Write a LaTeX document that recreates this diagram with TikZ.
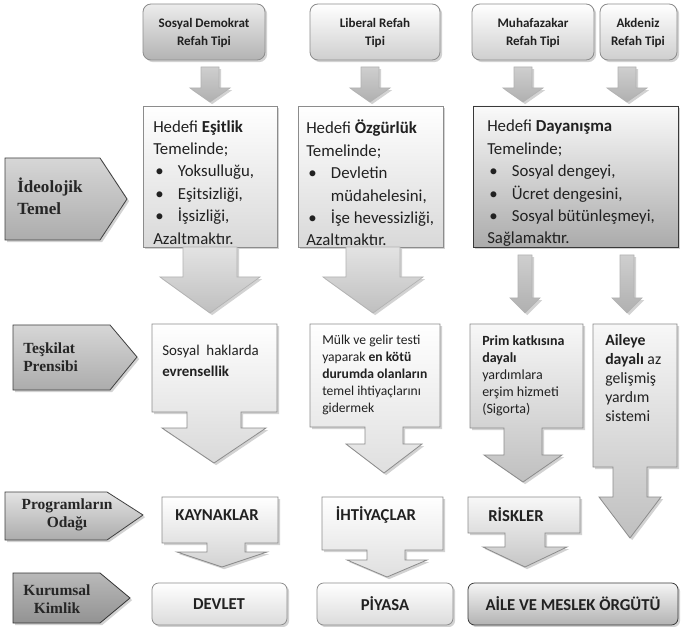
\documentclass[tikz,border=0pt]{standalone}
\usepackage{fontspec}
\setmainfont{Carlito}
\newfontfamily\labfont{Liberation Serif}
\usetikzlibrary{shadows}
\definecolor{txt}{gray}{0.13}
\definecolor{edge}{gray}{0.55}
\newcommand\bul{\hspace*{1.5pt}\makebox[17pt][l]{•}}
\newcommand\barr[7]{\path[#1] (#2-#4,#3) -- (#2+#4,#3) -- (#2+#4,#6) -- (#2+#5,#6) -- (#2,#7) -- (#2-#5,#6) -- (#2-#4,#6) -- cycle;}
\begin{document}
\begin{tikzpicture}[x=0.75pt,y=-0.75pt,
  shad/.style={drop shadow={shadow xshift=1.6pt,shadow yshift=-1.6pt,opacity=0.35}},
  lightbox/.style={draw=edge,line width=0.6pt,top color=white,bottom color=gray!30,shad},
  midbox/.style={draw=edge,line width=0.6pt,top color=gray!6,bottom color=gray!50,shad},
  darkbox/.style={draw=gray!45!black,line width=0.6pt,top color=gray!4,bottom color=gray!66,shad},
  topbox/.style={draw=edge,line width=0.6pt,rounded corners=6pt,top color=white,bottom color=gray!38,shad},
  topdark/.style={draw=edge,line width=0.6pt,rounded corners=6pt,top color=gray!15,bottom color=gray!60,shad},
  botbox/.style={draw=edge,line width=0.6pt,rounded corners=5pt,top color=white,bottom color=gray!28,shad},
  botdark/.style={draw=gray!45!black,line width=0.6pt,rounded corners=5pt,top color=gray!8,bottom color=gray!60,shad},
  smallarr/.style={draw=gray!60,line width=0.5pt,top color=gray!38,bottom color=gray!62,shad},
  bigarr/.style={draw=gray!60,line width=0.5pt,top color=gray!22,bottom color=gray!50,shad},
  lab/.style={draw=gray!50!black,line width=0.6pt,top color=gray!32,bottom color=gray!65,shad},
  labdark/.style={draw=gray!40!black,line width=0.6pt,top color=gray!55,bottom color=gray!85,shad},
  t/.style={inner sep=0pt,text=txt,align=left},
  lt/.style={inner sep=0pt,text=black!85,font=\labfont\bfseries\fontsize{11.6}{13.5}\selectfont}
]
\useasboundingbox[fill=white] (0,0) rectangle (682,627);

% ---------- left labels ----------
\path[lab] (5,158) -- (100,158) -- (127,199) -- (100,240) -- (5,240) -- cycle;
\node[lt,anchor=west,align=left,font=\labfont\bfseries\fontsize{12.8}{16.5}\selectfont] (l1) at (17,196) {İdeolojik\\Temel};
\path[lab] (13,325) -- (110,325) -- (137,357) -- (110,390) -- (13,390) -- cycle;
\node[lt,anchor=west,align=left] (l2) at (23,357) {Teşkilat\\Prensibi};
\path[lab,top color=gray!22] (5,492) -- (107,492) -- (143,515) -- (107,540) -- (5,540) -- cycle;
\node[lt,align=center] (l3) at (67,515) {Programların\\Odağı};
\path[labdark] (13,573) -- (100,573) -- (130,598) -- (100,623) -- (13,623) -- cycle;
\node[lt,align=center] (l4) at (57,599) {Kurumsal\\Kimlik};

% ---------- top row ----------
\path[topdark] (143,4) rectangle (265,60);
\node[t,align=center,font=\bfseries\fontsize{9.8}{13.5}\selectfont] (t1) at (204,33) {Sosyal Demokrat\\Refah Tipi};
\path[topbox] (310,4) rectangle (440,60);
\node[t,align=center,font=\bfseries\fontsize{9.8}{13.5}\selectfont] (t2) at (375,33) {Liberal Refah\\Tipi};
\path[topbox] (472,4) rectangle (594,60);
\node[t,align=center,font=\bfseries\fontsize{9.8}{13.5}\selectfont] (t3) at (533,33) {Muhafazakar\\Refah Tipi};
\path[topbox] (600,4) rectangle (677,60);
\node[t,align=center,font=\bfseries\fontsize{9.8}{13.5}\selectfont] (t4) at (638,33) {Akdeniz\\Refah Tipi};

% small arrows
\barr{smallarr}{210}{67}{9}{20}{88}{102}
\barr{smallarr}{370}{67}{9}{20}{88}{102}
\barr{smallarr}{523}{67}{9}{20}{88}{102}
\barr{smallarr}{627}{67}{9}{20}{88}{102}

% ---------- ideology row ----------
\path[lightbox] (143,106) rectangle (277,247);
\node[t,anchor=north west,font=\fontsize{12.6}{16.8}\selectfont] (i1) at (153,120)
  {Hedefi \textbf{Eşitlik}\\Temelinde;\\\bul Yoksulluğu,\\\bul Eşitsizliği,\\\bul İşsizliği,\\Azaltmaktır.};
\path[lightbox] (298,106) rectangle (443,247);
\node[t,anchor=north west,font=\fontsize{12.6}{16.8}\selectfont] (i2) at (306,120)
  {Hedefi \textbf{Özgürlük}\\Temelinde;\\\bul Devletin\\\hspace*{18.5pt}müdahelesini,\\\bul İşe hevessizliği,\\Azaltmaktır.};
\path[darkbox] (473,106) rectangle (678,247);
\node[t,anchor=north west,font=\fontsize{12.6}{16.8}\selectfont] (i3) at (487,120)
  {Hedefi \textbf{Dayanışma}\\Temelinde;\\\bul Sosyal dengeyi,\\\bul Ücret dengesini,\\\bul Sosyal bütünleşmeyi,\\Sağlamaktır.};

% big arrows
\barr{bigarr}{210}{247}{27}{50}{277}{313}
\barr{bigarr}{373}{247}{27}{50}{277}{313}
\barr{smallarr}{525}{255}{7}{15}{298}{313}
\barr{smallarr}{627}{255}{7}{15}{298}{313}

% ---------- organisation row ----------
\path[lightbox] (152,324) -- (277,324) -- (277,412) -- (241,412) -- (241,428) -- (266,428) -- (214,463)
  -- (162,428) -- (187,428) -- (187,412) -- (152,412) -- cycle;
\node[t,anchor=north west,font=\fontsize{11.2}{15.5}\selectfont] (s1) at (162,345) {Sosyal\ \ haklarda\\\textbf{evrensellik}};
\path[lightbox,bottom color=gray!25] (310,324) -- (440,324) -- (440,427) -- (403,427) -- (403,444) -- (422,444) -- (384,473)
  -- (346,444) -- (365,444) -- (365,427) -- (310,427) -- cycle;
\node[t,anchor=north west,font=\fontsize{10.2}{12.75}\selectfont] (s2) at (322,335)
  {Mülk ve gelir testi\\yaparak \textbf{en kötü}\\\textbf{durumda olanların}\\temel ihtiyaçlarını\\gidermek};
\path[midbox] (470,324) -- (583,324) -- (583,428) -- (542,428) -- (542,455) -- (562,455) -- (523,482)
  -- (484,455) -- (504,455) -- (504,428) -- (470,428) -- cycle;
\node[t,anchor=north west,font=\fontsize{10.5}{12.75}\selectfont] (s3) at (482,335)
  {\textbf{Prim katkısına}\\\textbf{dayalı}\\yardımlara\\erşim hizmeti\\(Sigorta)};
\path[midbox] (593,324) -- (677,324) -- (677,467) -- (647,467) -- (647,497) -- (661,497) -- (630,538)
  -- (599,497) -- (613,497) -- (613,467) -- (593,467) -- cycle;
\node[t,anchor=north west,font=\fontsize{11.8}{14.25}\selectfont] (s4) at (605,334)
  {\textbf{Aileye}\\\textbf{dayalı} az\\gelişmiş\\yardım\\sistemi};

% ---------- programme row ----------
\path[lightbox,bottom color=gray!35] (162,497) -- (278,497) -- (278,543) -- (245,543) -- (245,552) -- (267,552) -- (222,567)
  -- (177,552) -- (207,552) -- (207,543) -- (162,543) -- cycle;
\node[t,font=\bfseries\fontsize{12.5}{14}\selectfont] (p1) at (217,515) {KAYNAKLAR};
\path[lightbox,bottom color=gray!25] (322,497) -- (443,497) -- (443,550) -- (405,550) -- (405,560) -- (427,560) -- (387,577)
  -- (347,560) -- (367,560) -- (367,550) -- (322,550) -- cycle;
\node[t,font=\bfseries\fontsize{12.5}{14}\selectfont] (p2) at (376,515) {İHTİYAÇLAR};
\path[midbox,bottom color=gray!45] (468,497) -- (580,497) -- (580,533) -- (545,533) -- (545,547) -- (567,547) -- (525,567)
  -- (483,547) -- (505,547) -- (505,533) -- (468,533) -- cycle;
\node[t,font=\bfseries\fontsize{12.5}{14}\selectfont] (p3) at (516,515) {RİSKLER};

% ---------- institution row ----------
\path[botbox] (152,583) rectangle (287,625);
\node[t,font=\bfseries\fontsize{12.5}{14}\selectfont] (b1) at (219,604) {DEVLET};
\path[botbox] (317,583) rectangle (453,625);
\node[t,font=\bfseries\fontsize{12.5}{14}\selectfont] (b2) at (385,604) {PİYASA};
\path[botdark] (468,583) rectangle (678,625);
\node[t,font=\bfseries\fontsize{12.5}{14}\selectfont] (b3) at (573,604) {AİLE VE MESLEK ÖRGÜTÜ};
\end{tikzpicture}
\end{document}
